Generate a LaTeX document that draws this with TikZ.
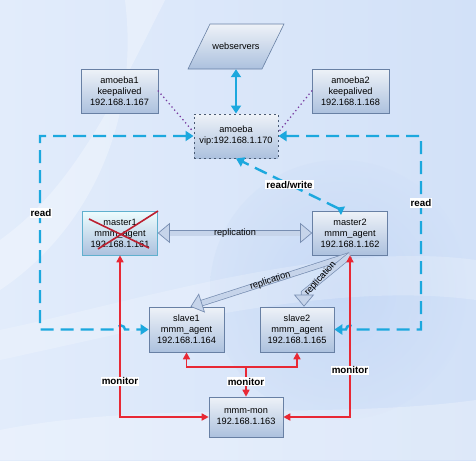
\documentclass[tikz,border=0pt]{standalone}
\usepackage{fontspec}
\setmainfont{Liberation Sans}
\usetikzlibrary{arrows.meta,positioning,shapes.geometric}

\definecolor{bgleft}{RGB}{226,236,251}
\definecolor{bgright}{RGB}{210,225,248}
\definecolor{bgdeep}{RGB}{188,210,244}
\definecolor{boxtop}{RGB}{238,242,248}
\definecolor{boxbot}{RGB}{172,193,222}
\definecolor{boxline}{RGB}{104,128,164}
\definecolor{deadline}{RGB}{96,176,206}
\definecolor{readblue}{RGB}{28,168,222}
\definecolor{monred}{RGB}{232,40,52}
\definecolor{crossred}{RGB}{188,32,48}
\definecolor{hbline}{RGB}{120,60,160}
\definecolor{replfill}{RGB}{198,212,234}
\definecolor{replline}{RGB}{120,142,178}

\begin{document}
\begin{tikzpicture}
	[x=1pt,y=-1pt,font=\fontsize{9.2}{11}\selectfont,
	box/.style={draw=boxline,line width=0.6pt,top color=boxtop,bottom color=boxbot,align=center,inner sep=0pt},
	lab/.style={fill=white,inner sep=1pt,font=\fontsize{9.8}{11}\selectfont\bfseries},
	readline/.style={draw=readblue,line width=2.4pt,dash pattern=on 13pt off 7pt,>={Triangle[length=8pt,width=10pt]}},
	monline/.style={draw=monred,line width=1.6pt,>={Triangle[length=7pt,width=7pt]}},
	hbline/.style={draw=hbline,line width=1.8pt,line cap=round,dash pattern=on 0pt off 4.2pt},
	replarrow/.style={draw=replline,double=replfill,double distance=5pt,line width=0.7pt,>={Triangle[open,length=12pt,width=20pt,fill=replfill]}}]
	
	% background
	\useasboundingbox (0,0) rectangle (476,460);
	\shade[left color=bgleft,right color=bgright] (0,0) rectangle (476,460);
	\shade[inner color=bgdeep,outer color=bgright,opacity=0.6] (340,290) circle[radius=130];
	\fill[white,opacity=0.3] (125,0) .. controls (140,120) and (90,230) .. (0,290) -- (0,240) .. controls (70,190) and (110,110) .. (165,0) -- cycle;
	\fill[white,opacity=0.2] (0,330) .. controls (140,300) and (330,240) .. (476,260) -- (476,300) .. controls (330,280) and (140,330) .. (0,360) -- cycle;
	\fill[white,opacity=0.25] (0,430) .. controls (150,400) and (330,420) .. (476,400) -- (476,460) -- (0,460) -- cycle;
	
	% webservers (parallelogram)
	\coordinate (wc) at (236,46.5);
	\shade[draw=boxline,line width=0.6pt,top color=boxtop,bottom color=boxbot]
	([shift={(-48,22.5)}]wc) -- ([shift={(26,22.5)}]wc) -- ([shift={(48,-22.5)}]wc) -- ([shift={(-26,-22.5)}]wc) -- cycle;
	\node[minimum width=74,minimum height=45,inner sep=0pt] (web) at (wc) {webservers};
	
	% nodes
	\node[box,minimum width=77,minimum height=44] (amoeba1) at (119.5,91) {amoeba1\\keepalived\\192.168.1.167};
	\node[box,minimum width=77,minimum height=44] (amoeba2) at (350.5,91) {amoeba2\\keepalived\\192.168.1.168};
	\node[box,draw=boxline!70!black,line width=1pt,dash pattern=on 2pt off 3pt,minimum width=84,minimum height=44] (amoeba) at (236,136) {amoeba\\vip:192.168.1.170};
	\node[box,draw=deadline,top color=boxtop!70!cyan!20,minimum width=75,minimum height=44] (master1) at (120,233) {master1\\mmm\_agent\\192.168.1.161};
	\node[box,minimum width=75,minimum height=44] (master2) at (350,233) {master2\\mmm\_agent\\192.168.1.162};
	\node[box,minimum width=75,minimum height=45] (slave1) at (186.5,329.5) {slave1\\mmm\_agent\\192.168.1.164};
	\node[box,minimum width=74,minimum height=45] (slave2) at (297,329.5) {slave2\\mmm\_agent\\192.168.1.165};
	\node[box,minimum width=74,minimum height=40] (mmmmon) at (246,417) {mmm-mon\\192.168.1.163};
	
	% master1 is down
	\draw[crossred,line width=1.6pt] ([shift={(-22,16)}]master1.center) -- ([shift={(38,-22)}]master1.center);
	\draw[crossred,line width=1.6pt] ([shift={(29,15)}]master1.center) -- ([shift={(-31,-14)}]master1.center);
	
	% heartbeat
	\draw[hbline] (amoeba1.east) -- ([yshift=4pt]amoeba.west);
	\draw[hbline] (amoeba2.west) -- ([yshift=4pt]amoeba.east);
	
	% client side
	\draw[readline,solid,<->] (web.south) -- (amoeba.north);
	\coordinate (rl) at (40,0);
	\coordinate (rr) at (421,0);
	\draw[readline,<->] (amoeba.west) -| (rl |- slave1.west) -- (117,329.5) arc[start angle=180,end angle=360,radius=4] -- (slave1.west);
	\draw[readline,<->] (amoeba.east) -| (rr |- slave2.east) -- (354,329.5) arc[start angle=0,end angle=-180,radius=4] -- (slave2.east);
	\node[lab] at (41,213) {read};
	\node[lab] at (421,203) {read};
	\draw[readline,{Triangle[reversed,length=7pt,width=9pt]}-{Triangle[length=8pt,width=10pt]}] ([xshift=-7pt]master2.north) -- node[lab] {read/write} (amoeba.south);
	
	% replication
	\draw[replarrow,<->] (master1) -- node {replication} (master2);
	\draw[replarrow,->] (master2.south) -- node[sloped,pos=0.5] {replication} ([xshift=4pt]slave1.north);
	\coordinate (rbend) at (304,293);
	\draw[replarrow,->] (master2.south) -- node[rotate=48,pos=0.7,xshift=4pt,inner sep=0pt] {replication} (rbend) -- (rbend |- slave2.north);
	
	% monitor
	\draw[monline,<->] (master1.south) |- node[lab,pos=0.39] {monitor} (mmmmon.west);
	\draw[monline,<->] (master2.south) |- node[lab,pos=0.355] {monitor} (mmmmon.east);
	\coordinate (mj) at (246,367);
	\draw[monline,->] (mj) -- node[lab] {monitor} (mmmmon.north);
	\draw[monline,->] (mj) -| (slave1.south);
	\draw[monline,->] (mj) -| (slave2.south);
	
\end{tikzpicture}
\end{document}
